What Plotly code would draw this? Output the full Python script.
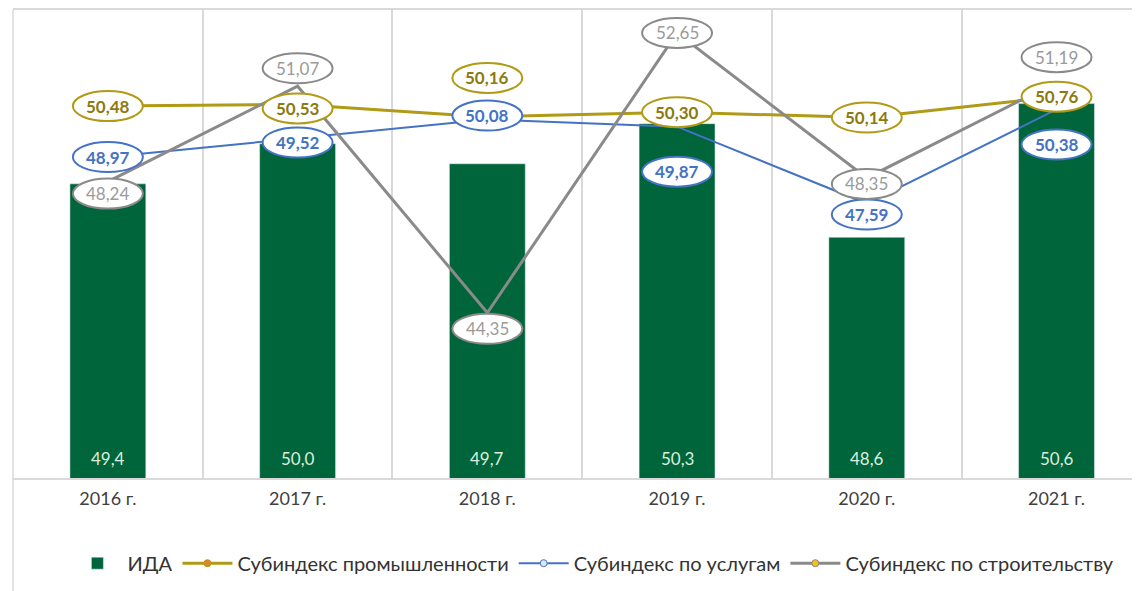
"""ИДА and sub-indices, 2016-2021: bars plus three lines on a second axis."""

import plotly.graph_objects as go

years = ['2016 г.', '2017 г.', '2018 г.', '2019 г.', '2020 г.', '2021 г.']
ida = [49.4, 50.0, 49.7, 50.3, 48.6, 50.6]
industry = [50.48, 50.53, 50.16, 50.30, 50.14, 50.76]
services = [48.97, 49.52, 50.08, 49.87, 47.59, 50.38]
construction = [48.24, 51.07, 44.35, 52.65, 48.35, 51.19]

# where each value badge sits relative to its point, px (+ is up)
industry_shift = [0, -4, 39, 0, 0, 0]
services_shift = [0, -4, 4, -45, -11, -35]
construction_shift = [-12, 18, -16, 0, -6, 25]

BAR_RANGE = [45, 52]
LINE_RANGE = [39.45, 53.33]

GREEN = '#00653A'
GOLD = '#B09A16'
GOLD_TEXT = '#8C7A0E'
BLUE = '#4472C4'
GRAY = '#8A8A8A'
GRAY_TEXT = '#9A9A9A'
GRID = '#D9D9D9'
FONT = 'Lato'

fig = go.Figure()

fig.add_trace(go.Bar(
    x=years, y=ida, name='ИДА',
    marker_color=GREEN,
    textposition='none',
    yaxis='y',
))

# bar values sit at the foot of each bar
for yr, v in zip(years, ida):
    fig.add_annotation(
        x=yr, y=BAR_RANGE[0], xref='x', yref='y',
        yanchor='bottom', yshift=7,
        text=f'{v:.1f}'.replace('.', ','), showarrow=False,
        font=dict(color='#DDEEDC', size=17, family=FONT),
    )

lines = [
    ('Субиндекс промышленности', industry, GOLD, 3, '#ED7D31'),
    ('Субиндекс по услугам', services, BLUE, 2, '#DCE6F5'),
    ('Субиндекс по строительству', construction, GRAY, 3, '#FFC000'),
]

for name, vals, color, width, mcolor in lines:
    fig.add_trace(go.Scatter(
        x=years, y=vals, name=name, mode='lines',
        line=dict(color=color, width=width),
        yaxis='y2', showlegend=False,
    ))
    # legend entry with the small marker
    fig.add_trace(go.Scatter(
        x=[None], y=[None], name=name, mode='lines+markers',
        line=dict(color=color, width=width),
        marker=dict(color=mcolor, size=7, line=dict(color=color, width=1)),
        yaxis='y2',
    ))

# value badges: white ellipse + text
badges = [
    (industry, industry_shift, GOLD, GOLD_TEXT, 'bold'),
    (services, services_shift, BLUE, BLUE, 'bold'),
    (construction, construction_shift, GRAY, GRAY_TEXT, 'normal'),
]
w, h = 70, 30
for vals, shifts, border, tcolor, weight in badges:
    for yr, v, s in zip(years, vals, shifts):
        fig.add_shape(
            type='circle', xref='x', yref='y2',
            xsizemode='pixel', ysizemode='pixel',
            xanchor=yr, yanchor=v,
            x0=-w / 2, x1=w / 2, y0=s - h / 2, y1=s + h / 2,
            line=dict(color=border, width=2),
            fillcolor='white', layer='above',
        )
        fig.add_annotation(
            x=yr, y=v, xref='x', yref='y2', yshift=s,
            text=f'{v:.2f}'.replace('.', ','), showarrow=False,
            font=dict(color=tcolor, size=17, family=FONT, weight=weight),
        )

# chart-area left border running down past the axis
fig.add_shape(type='line', xref='paper', yref='paper',
              x0=0, x1=0, y0=1, y1=-0.25,
              line=dict(color=GRID, width=1.5))

# page body adds an 8px margin, so the figure is drawn 8px smaller
fig.update_layout(
    width=1132, height=583,
    margin=dict(l=5, r=0, t=2, b=113),
    paper_bgcolor='white', plot_bgcolor='white',
    bargap=0.6,
    font=dict(family=FONT, color='#404040'),
    xaxis=dict(
        type='category', range=[-0.5, 5.44],
        tickson='boundaries', showgrid=True, gridcolor=GRID, gridwidth=1.5,
        showline=True, mirror=True, linecolor=GRID, linewidth=1.5,
        ticks='', ticklabelstandoff=4,
        tickfont=dict(size=18, color='#404040', family=FONT),
    ),
    yaxis=dict(range=BAR_RANGE, visible=False, showgrid=False),
    yaxis2=dict(range=LINE_RANGE, overlaying='y', visible=False, showgrid=False),
    legend=dict(
        orientation='h', x=0.515, xanchor='center', y=-0.182, yanchor='middle',
        font=dict(size=20, color='#333333', family=FONT),
        itemwidth=50, tracegroupgap=0,
    ),
)

fig.write_html('out.html')
